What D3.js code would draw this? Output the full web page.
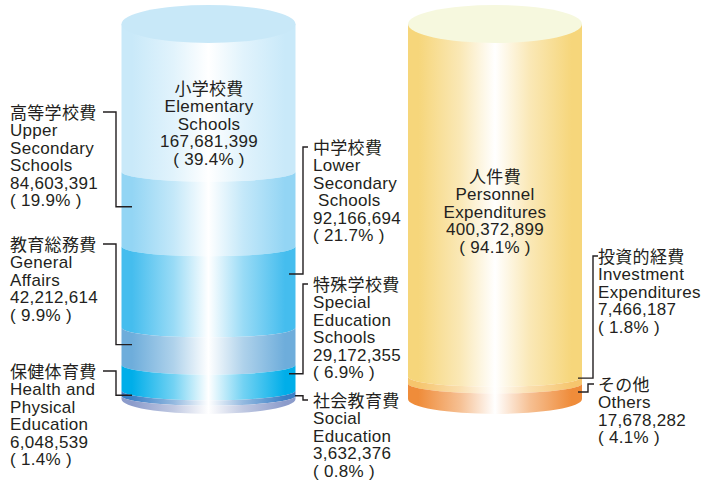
<!DOCTYPE html>
<html>
<head>
<meta charset="utf-8">
<script src="https://cdn.jsdelivr.net/npm/d3@7"></script>
<style>
  body { margin: 0; background: #fff; }
  text { font-family: "Liberation Sans", Arial, "Noto Sans CJK JP", sans-serif; font-size: 17px; letter-spacing: 0.3px; fill: #231f20; white-space: pre; }
</style>
</head>
<body>
<script>
// Left cylinder: breakdown by purpose
const leftJa = ["小学校費", "高等学校費", "中学校費", "教育総務費", "特殊学校費", "保健体育費", "社会教育費"];
const leftEn = [["Elementary", "Schools"], ["Upper", "Secondary", "Schools"], ["Lower", "Secondary", " Schools"],
    ["General", "Affairs"], ["Special", "Education", "Schools"], ["Health and", "Physical", "Education"], ["Social", "Education"]];
const leftValues = [167681399, 84603391, 92166694, 42212614, 29172355, 6048539, 3632376];
const leftPct = [39.4, 19.9, 21.7, 9.9, 6.9, 1.4, 0.8];

// Right cylinder: breakdown by type
const rightJa = ["人件費", "投資的経費", "その他"];
const rightEn = [["Personnel", "Expenditures"], ["Investment", "Expenditures"], ["Others"]];
const rightValues = [400372899, 7466187, 17678282];
const rightPct = [94.1, 1.8, 4.1];

// colours
const leftColors = ["#c9e9f9", "#93d5f4", "#45bdee", "#6eaddb", "#00aee9", "#3a7fc6", "#8c9ccb"];
const rightColors = ["#f6d67b", "#f6c56d", "#ef8c3a"];

// label layout
const leftLayout = [
    {x: 209, y: 95, anchor: "middle"},
    {x: 10, y: 119, start: 103, bar: 116, end: 132, tip: 0.47},
    {x: 313, y: 154, start: 308, bar: 303, end: 289, tip: 0.34},
    {x: 10, y: 251, start: 103, bar: 116, end: 132, tip: 0.46},
    {x: 313, y: 291, start: 308, bar: 303, end: 289, tip: 0.35},
    {x: 10, y: 378, start: 103, bar: 116, end: 132, tip: 0.9},
    {x: 313, y: 407, start: 308, bar: 303, end: 295, tip: 0.0}
];
const rightLayout = [
    {x: 495, y: 183, anchor: "middle"},
    {x: 598, y: 263, start: 598, bar: 593, end: 578, tip: 0.2},
    {x: 598, y: 391, start: 594, bar: 588, end: 578, tip: 0.55}
];

const W = 702, H = 481;
const svg = d3.select("body").append("svg")
    .attr("width", W)
    .attr("height", H);
const defs = svg.append("defs");

const rx = 87, topRy = 19, innerRy = 10, bottomRy = 15;
const total = d3.sum(leftValues);
const yScale = d3.scaleLinear()
    .domain([0, total])
    .range([24, 399]);

const numFmt = d3.format(",");
const pctFmt = p => "( " + d3.format(".1f")(p) + "% )";

function segPath(cx, y0, y1, ry0, ry1) {
    return `M${cx - rx},${y0} A${rx},${ry0} 0 0 0 ${cx + rx},${y0} ` +
        `L${cx + rx},${y1} A${rx},${ry1} 0 0 1 ${cx - rx},${y1} Z`;
}

function makeGradient(id, c) {
    const g = defs.append("linearGradient")
        .attr("id", id)
        .attr("x1", "0%").attr("x2", "100%").attr("y1", "0%").attr("y2", "0%");
    const mix = d3.interpolateRgb(c, "#ffffff");
    [[0, c], [0.06, c], [0.3, mix(0.45)], [0.5, "#ffffff"], [0.7, mix(0.45)], [0.94, c], [1, c]]
        .forEach(s => g.append("stop").attr("offset", s[0]).attr("stop-color", s[1]));
}

function drawCylinder(name, cx, values, colors, topColor, ja, en, pct, layout) {
    const g = svg.append("g").attr("id", name);
    let cum = 0;
    const segs = values.map((v, i) => {
        const s = {i: i, v: v, a: cum, b: cum + v};
        cum += v;
        return s;
    });

    segs.forEach(s => {
        const id = name + "-grad-" + s.i;
        makeGradient(id, colors[s.i]);
        const last = s.i === segs.length - 1;
        g.append("path")
            .attr("d", segPath(cx, yScale(s.a), yScale(s.b), s.i === 0 ? 0 : innerRy, last ? bottomRy : innerRy))
            .attr("fill", "url(#" + id + ")");
    });

    // top face
    g.append("ellipse")
        .attr("cx", cx)
        .attr("cy", yScale(0))
        .attr("rx", rx)
        .attr("ry", topRy)
        .attr("fill", topColor);

    // labels and leader brackets
    segs.forEach(s => {
        const lay = layout[s.i];
        const lines = [ja[s.i]].concat(en[s.i], [numFmt(s.v), pctFmt(pct[s.i])]);
        const t = svg.append("text")
            .attr("text-anchor", lay.anchor || "start");
        lines.forEach((str, k) => {
            t.append("tspan")
                .attr("x", lay.x)
                .attr("y", lay.y + k * 17.4)
                .text(str);
        });
        if (lay.bar !== undefined) {
            const ty = yScale(s.a + lay.tip * s.v);
            const ly = lay.y - 7;
            svg.append("path")
                .attr("d", `M${lay.start},${ly} H${lay.bar} V${ty} H${lay.end}`)
                .attr("fill", "none")
                .attr("stroke", "#231f20")
                .attr("stroke-width", 1.4);
        }
    });
}

drawCylinder("left", 208.5, leftValues, leftColors, "#c8e8f8", leftJa, leftEn, leftPct, leftLayout);
drawCylinder("right", 495, rightValues, rightColors, "#f6f8de", rightJa, rightEn, rightPct, rightLayout);
</script>
</body>
</html>
